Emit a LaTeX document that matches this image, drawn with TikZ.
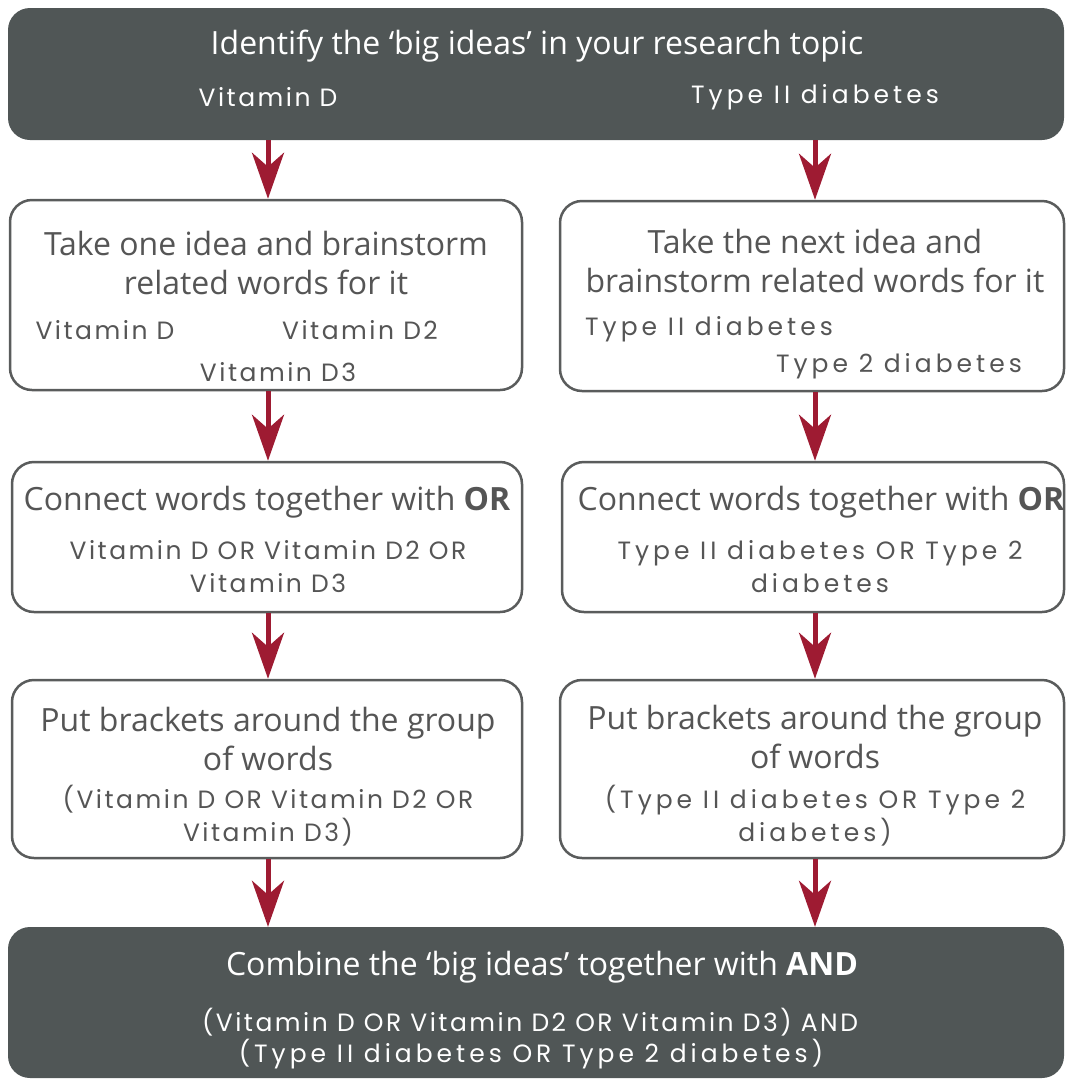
\documentclass[tikz,border=0pt]{standalone}
\usepackage{fontspec}
\setmainfont{Open Sans}
\newfontfamily\hand[LetterSpace=10]{Poppins}
\newfontfamily\handwide[LetterSpace=16]{Poppins}
\usetikzlibrary{arrows.meta}
\definecolor{darkbox}{HTML}{505656}
\definecolor{boxline}{HTML}{5A5C5C}
\definecolor{txtgray}{HTML}{555555}
\definecolor{arrred}{HTML}{9E1B32}
\tikzset{
  darkbox/.style={draw=none,fill=darkbox,rounded corners=22pt,inner sep=0pt},
  whitebox/.style={draw=boxline,line width=2.5pt,fill=white,rounded corners=22pt,inner sep=0pt},
  head/.style={align=center,font=\fontsize{32}{39}\selectfont,text=txtgray,inner sep=0pt},
  headw/.style={head,text=white},
  hw/.style={align=center,font=\hand\fontsize{25}{33}\selectfont,text=txtgray,inner sep=0pt},
  hwt/.style={hw,font=\handwide\fontsize{25}{33}\selectfont},
  hww/.style={hw,text=white},
  hwtw/.style={hwt,text=white},
  arr/.style={draw=arrred,line width=5pt,-{Stealth[length=46pt,width=32pt,inset=14pt]}}
}
\begin{document}
\begin{tikzpicture}[x=1pt,y=-1pt]
\useasboundingbox (0,0) rectangle (1066,1080);
% boxes
\node[darkbox,minimum width=1056pt,minimum height=132pt] (top) at (536,74) {};
\node[whitebox,minimum width=512pt,minimum height=190pt] (b1l) at (266,295) {};
\node[whitebox,minimum width=504pt,minimum height=190pt] (b1r) at (812,296) {};
\node[whitebox,minimum width=510pt,minimum height=150pt] (b2l) at (267,537) {};
\node[whitebox,minimum width=502pt,minimum height=150pt] (b2r) at (813,537) {};
\node[whitebox,minimum width=510pt,minimum height=178pt] (b3l) at (267,769) {};
\node[whitebox,minimum width=504pt,minimum height=178pt] (b3r) at (812,769) {};
\node[darkbox,minimum width=1056pt,minimum height=151pt] (bot) at (536,1002.5) {};
% top texts
\node[headw] (t0) at (537,46) {Identify the ‘big ideas’ in your research topic};
\node[hww] (t0a) at (268,97) {Vitamin D};
\node[hwtw] (t0b) at (815,97) {Type II diabetes};
% row 1
\node[head] (t1l) at (266,262.5) {Take one idea and brainstorm\\related words for it};
\node[hw] (t1la) at (105,330) {Vitamin D};
\node[hw] (t1lb) at (360,330) {Vitamin D2};
\node[hw] (t1lc) at (278,372) {Vitamin D3};
\node[head] (t1r) at (815,260.5) {Take the next idea and\\brainstorm related words for it};
\node[hwt,anchor=west] (t1ra) at (585,329) {Type II diabetes};
\node[hwt,anchor=east] (t1rb) at (1022,366) {Type 2 diabetes};
% row 2
\node[head] (t2l) at (267,502) {Connect words together with \textbf{OR}};
\node[hw] (t2la) at (268,566.5) {Vitamin D OR Vitamin D2 OR\\Vitamin D3};
\node[head] (t2r) at (821,502) {Connect words together with \textbf{OR}};
\node[hwt] (t2ra) at (820,566.5) {Type II diabetes OR Type 2\\diabetes};
% row 3
\node[head] (t3l) at (268,738.5) {Put brackets around the group\\of words};
\node[hw] (t3la) at (268,815.5) {(Vitamin D OR Vitamin D2 OR\\Vitamin D3)};
\node[head] (t3r) at (815,736.5) {Put brackets around the group\\of words};
\node[hwt] (t3ra) at (815,815.5) {(Type II diabetes OR Type 2\\diabetes)};
% bottom
\node[headw] (t4) at (542,967) {Combine the ‘big ideas’ together with \textbf{AND}};
\node[hww] (t4a) at (530,1022) {(Vitamin D OR Vitamin D2 OR Vitamin D3) AND};
\node[hwtw] (t4b) at (531,1054) {(Type II diabetes OR Type 2 diabetes)};
% arrows
\draw[arr] (top.south -| t0a) -- (t0a |- b1l.north);
\draw[arr] (top.south -| t0b) -- (t0b |- b1r.north);
\draw[arr] (b1l.south -| t0a) -- (t0a |- b2l.north);
\draw[arr] (b1r.south -| t0b) -- (t0b |- b2r.north);
\draw[arr] (b2l.south -| t0a) -- (t0a |- b3l.north);
\draw[arr] (b2r.south -| t0b) -- (t0b |- b3r.north);
\draw[arr] (b3l.south -| t0a) -- (t0a |- bot.north);
\draw[arr] (b3r.south -| t0b) -- (t0b |- bot.north);
\end{tikzpicture}
\end{document}
